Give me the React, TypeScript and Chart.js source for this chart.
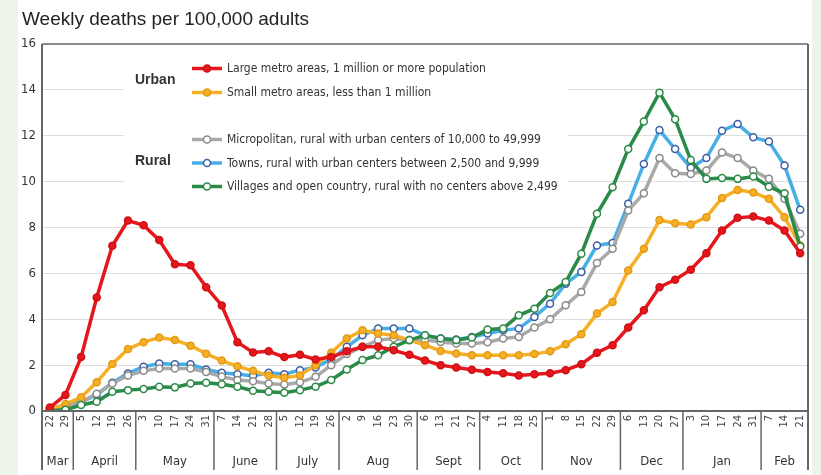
import React, { useEffect, useRef } from "react";
import { Chart, registerables } from "chart.js";

Chart.register(...registerables);

const title = "Weekly deaths per 100,000 adults";

const dayLabels = [
  "22", "29",
  "5", "12", "19", "26",
  "3", "10", "17", "24", "31",
  "7", "14", "21", "28",
  "5", "12", "19", "26",
  "2", "9", "16", "23", "30",
  "6", "13", "21", "27",
  "4", "11", "18", "25",
  "1", "8", "15", "22", "29",
  "6", "13", "20", "27",
  "3", "10", "17", "24", "31",
  "7", "14", "21",
];

const monthNames = ["Mar", "April", "May", "June", "July", "Aug", "Sept", "Oct", "Nov", "Dec", "Jan", "Feb"];
const monthWeeks = [2, 4, 5, 4, 4, 5, 4, 4, 5, 4, 5, 3];

const largeMetro = [
  0.15, 0.7, 2.35, 4.95, 7.2, 8.3, 8.1, 7.45, 6.4, 6.35, 5.4, 4.6, 3.0, 2.55, 2.6, 2.35, 2.45,
  2.25, 2.35, 2.6, 2.8, 2.8, 2.65, 2.45, 2.2, 2.0, 1.9, 1.8, 1.7, 1.65, 1.55, 1.6, 1.65,
  1.78, 2.04, 2.54, 2.87, 3.64, 4.39, 5.4, 5.72, 6.16, 6.88, 7.87, 8.42, 8.48, 8.3, 7.87, 6.88,
];
const smallMetro = [
  0.05, 0.3, 0.6, 1.25, 2.05, 2.7, 3.0, 3.2, 3.1, 2.85, 2.5, 2.2, 1.95, 1.75, 1.55, 1.45, 1.55,
  2.0, 2.54, 3.16, 3.52, 3.38, 3.3, 3.09, 2.87, 2.62, 2.51, 2.43, 2.43, 2.43, 2.43, 2.48, 2.6,
  2.91, 3.35, 4.25, 4.75, 6.13, 7.07, 8.33, 8.19, 8.13, 8.45, 9.29, 9.64, 9.53, 9.25, 8.45, 7.22,
];
const micropolitan = [
  0.05, 0.2, 0.4, 0.75, 1.2, 1.55, 1.75, 1.85, 1.85, 1.85, 1.7, 1.5, 1.35, 1.3, 1.2, 1.15, 1.25,
  1.49, 2.0, 2.48, 2.8, 3.09, 3.16, 3.1, 3.1, 3.01, 2.94, 2.94, 3.0, 3.16, 3.23, 3.64, 4.0,
  4.61, 5.19, 6.45, 7.07, 8.74, 9.49, 11.03, 10.36, 10.33, 10.48, 11.27, 11.03, 10.48, 10.12, 9.25, 7.73,
];
const towns = [
  0.1, 0.25, 0.4, 0.7, 1.23, 1.64, 1.93, 2.07, 2.04, 2.04, 1.81, 1.67, 1.6, 1.54, 1.67, 1.6, 1.78,
  1.9, 2.25, 2.8, 3.3, 3.6, 3.6, 3.6, 3.3, 3.16, 3.12, 3.23, 3.38, 3.52, 3.6, 4.1, 4.68,
  5.55, 6.06, 7.22, 7.32, 9.03, 10.77, 12.25, 11.42, 10.6, 11.03, 12.22, 12.51, 11.93, 11.75, 10.7, 8.77,
];
const villages = [
  0.02, 0.05, 0.26, 0.4, 0.84, 0.91, 0.96, 1.06, 1.03, 1.2, 1.23, 1.17, 1.06, 0.88, 0.84, 0.8, 0.91,
  1.06, 1.35, 1.81, 2.22, 2.43, 2.8, 3.09, 3.3, 3.16, 3.09, 3.2, 3.55, 3.6, 4.17, 4.46, 5.14,
  5.62, 6.86, 8.6, 9.75, 11.42, 12.62, 13.88, 12.72, 10.94, 10.12, 10.16, 10.12, 10.22, 9.78, 9.49, 7.17,
];

const seriesNames = [
  "Large metro areas, 1 million or more population",
  "Small metro areas, less than 1 million",
  "Micropolitan, rural with urban centers of 10,000 to 49,999",
  "Towns, rural with urban centers between 2,500 and 9,999",
  "Villages and open country, rural with no centers above 2,499",
];
const groupNames = ["Urban", "Rural"];

const COND = '"Liberation Sans Narrow", "DejaVu Sans Condensed", "Arial Narrow", "Liberation Sans", sans-serif';
const SANS = '"Liberation Sans", Arial, sans-serif';

type Style = { line: string; fill: string; border: string; width: number };
const styles: Style[] = [
  { line: "#e5161c", fill: "#e5161c", border: "#d01015", width: 3.5 },
  { line: "#f6b027", fill: "#f6b027", border: "#e39a12", width: 3.5 },
  { line: "#a9a9a9", fill: "#ffffff", border: "#8a8a8a", width: 3.5 },
  { line: "#48aee6", fill: "#ffffff", border: "#3b5ea6", width: 3.5 },
  { line: "#2b8a47", fill: "#ffffff", border: "#2b8a47", width: 3.5 },
];

const decor = {
  id: "decor",
  beforeDraw(chart: any) {
    const { ctx, width, height } = chart;
    ctx.save();
    ctx.fillStyle = "#eef4e9";
    ctx.fillRect(0, 0, width, height);
    ctx.fillStyle = "#ffffff";
    ctx.fillRect(18, 0, 794, height);
    ctx.fillStyle = "#222";
    ctx.font = "19px " + SANS;
    ctx.textBaseline = "alphabetic";
    ctx.textAlign = "left";
    ctx.fillText(title, 22, 25);
    ctx.restore();
  },
  beforeDatasetsDraw(chart: any) {
    const { ctx } = chart;
    ctx.save();
    ctx.fillStyle = "#ffffff";
    ctx.fillRect(124, 50, 444, 150);
    ctx.restore();
  },
  afterDraw(chart: any) {
    const { ctx } = chart;
    const { left, right, top, bottom } = chart.chartArea;
    const xs = chart.scales.x;
    const base = 470;
    ctx.save();
    ctx.strokeStyle = "#666";
    ctx.lineWidth = 2;
    const seg = (x1: number, y1: number, x2: number, y2: number) => {
      ctx.beginPath();
      ctx.moveTo(x1, y1);
      ctx.lineTo(x2, y2);
      ctx.stroke();
    };
    seg(left, top, left, base);
    seg(right, top, right, base);
    ctx.lineWidth = 1.5;
    seg(left, top, right, top);
    ctx.lineWidth = 2;
    seg(left, bottom, right, bottom);

    // months
    let idx = 0;
    ctx.fillStyle = "#333";
    ctx.font = "13px " + COND;
    ctx.textAlign = "center";
    ctx.textBaseline = "middle";
    monthNames.forEach((m, k) => {
      const s = idx;
      const e = idx + monthWeeks[k] - 1;
      const ps = xs.getPixelForValue(s);
      const pe = xs.getPixelForValue(e);
      ctx.fillText(m, (ps + pe) / 2, 462);
      if (k < monthNames.length - 1) {
        const sep = (pe + xs.getPixelForValue(e + 1)) / 2;
        ctx.strokeStyle = "#666";
        ctx.lineWidth = 1.5;
        seg(sep, bottom, sep, base);
      }
      idx += monthWeeks[k];
    });

    // legend
    const rows = [68.5, 92.5, 139.5, 163, 186.5];
    ctx.font = "bold 14px " + SANS;
    ctx.textAlign = "left";
    ctx.fillStyle = "#333";
    ctx.fillText(groupNames[0], 135, 80.5);
    ctx.fillText(groupNames[1], 135, 161);
    ctx.font = "12px " + COND;
    rows.forEach((y, i) => {
      const st = styles[i];
      ctx.strokeStyle = st.line;
      ctx.lineWidth = st.width;
      seg(192, y, 222, y);
      ctx.beginPath();
      ctx.arc(207, y, 3.5, 0, Math.PI * 2);
      ctx.fillStyle = st.fill;
      ctx.fill();
      ctx.lineWidth = 1.5;
      ctx.strokeStyle = st.border;
      ctx.stroke();
      ctx.fillStyle = "#333";
      ctx.fillText(seriesNames[i], 227, y + 0.5);
    });
    ctx.restore();
  },
};

export default function App() {
  const ref = useRef<HTMLCanvasElement | null>(null);
  useEffect(() => {
    document.body.style.margin = "0";
    const series = [largeMetro, smallMetro, micropolitan, towns, villages];
    const chart = new Chart(ref.current as HTMLCanvasElement, {
      type: "line",
      data: {
        labels: dayLabels,
        datasets: series.map((d, i) => ({
          label: seriesNames[i],
          data: d,
          borderColor: styles[i].line,
          borderWidth: styles[i].width,
          pointRadius: 3.5,
          pointBorderWidth: 1.5,
          pointBackgroundColor: styles[i].fill,
          pointBorderColor: styles[i].border,
          tension: 0,
          fill: false,
          order: i === 0 ? 0 : i === 4 ? 1 : i + 1,
        })),
      },
      options: {
        responsive: false,
        animation: false,
        layout: { padding: { top: 44, right: 13, left: 0, bottom: 0 } },
        plugins: {
          legend: { display: false },
          tooltip: { enabled: false },
          title: { display: false },
        },
        scales: {
          x: {
            type: "category",
            offset: true,
            grid: { display: false, drawTicks: false },
            border: { display: false },
            ticks: {
              autoSkip: false,
              maxRotation: 90,
              minRotation: 90,
              padding: 4,
              color: "#444",
              font: { family: COND, size: 11 },
            },
            afterFit(s: any) {
              s.height = 64;
            },
          },
          y: {
            min: 0,
            max: 16,
            ticks: {
              stepSize: 2,
              padding: 6,
              color: "#333",
              font: { family: COND, size: 13 },
            },
            grid: {
              drawTicks: false,
              lineWidth: 1,
              color: (c: any) => (c.tick && (c.tick.value === 0 || c.tick.value === 16) ? "rgba(0,0,0,0)" : "#dedede"),
            },
            border: { display: false },
            afterFit(s: any) {
              s.width = 42;
            },
          },
        },
      },
      plugins: [decor],
    } as any);
    return () => chart.destroy();
  }, []);
  return (
    <div style={{ width: 821, height: 475 }}>
      <canvas ref={ref} width={821} height={475} style={{ display: "block" }} />
    </div>
  );
}
